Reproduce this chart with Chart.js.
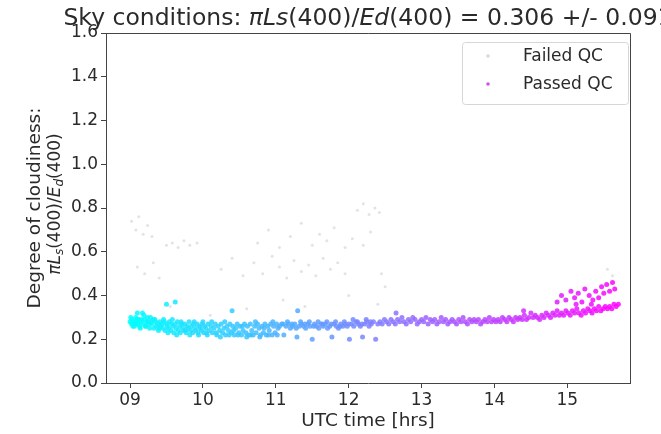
<!DOCTYPE html>
<html>
<head>
<meta charset="utf-8">
<script src="https://cdn.jsdelivr.net/npm/chart.js@4.4.0/dist/chart.umd.min.js"></script>
<style>
  html, body { margin: 0; padding: 0; background: #fff; }
</style>
</head>
<body>
<canvas id="skyChart" width="661" height="434"></canvas>
<script>
// ticks
const xTicks = [9, 10, 11, 12, 13, 14, 15];
const xTickLabels = ["09", "10", "11", "12", "13", "14", "15"];
const yTicks = [0, 0.2, 0.4, 0.6, 0.8, 1.0, 1.2, 1.4, 1.6];

// passed QC
const passedTime = [
  9.00, 9.02, 9.03, 9.05, 9.06, 9.08, 9.09, 9.11, 9.12, 9.14,
  9.15, 9.17, 9.18, 9.20, 9.21, 9.23, 9.24, 9.26, 9.27, 9.29,
  9.30, 9.32, 9.33, 9.35, 9.36, 9.38, 9.39, 9.41, 9.42, 9.44,
  9.45, 9.47, 9.48, 9.50, 9.51, 9.53, 9.54, 9.56, 9.57, 9.59,
  9.60, 9.62, 9.63, 9.65, 9.66, 9.68, 9.69, 9.71, 9.72, 9.74,
  9.75, 9.77, 9.78, 9.80, 9.81, 9.83, 9.84, 9.86, 9.87, 9.89,
  9.90, 9.92, 9.93, 9.95, 9.96, 9.98, 9.99, 10.01, 10.02, 10.04,
  10.05, 10.07, 10.09, 10.11, 10.13, 10.15, 10.17, 10.19, 10.21, 10.23,
  10.25, 10.27, 10.29, 10.31, 10.33, 10.35, 10.37, 10.39, 10.41, 10.43,
  10.45, 10.47, 10.49, 10.51, 10.53, 10.55, 10.57, 10.59, 10.61, 10.63,
  10.65, 10.67, 10.69, 10.71, 10.73, 10.75, 10.77, 10.79, 10.81, 10.83,
  10.85, 10.87, 10.89, 10.91, 10.93, 10.95, 10.97, 10.99, 11.01, 11.03,
  11.05, 11.08, 11.11, 11.14, 11.17, 11.20, 11.23, 11.26, 11.29, 11.32,
  11.35, 11.38, 11.41, 11.44, 11.47, 11.50, 11.53, 11.56, 11.59, 11.62,
  11.65, 11.68, 11.71, 11.74, 11.77, 11.80, 11.83, 11.86, 11.89, 11.92,
  11.95, 11.98, 12.01, 12.04, 12.07, 12.10, 12.13, 12.16, 12.19, 12.22,
  12.25, 12.28, 12.31, 12.34, 12.37, 12.40, 12.43, 12.46, 12.49, 12.52,
  12.55, 12.58, 12.61, 12.64, 12.67, 12.70, 12.73, 12.76, 12.79, 12.82,
  12.85, 12.88, 12.91, 12.94, 12.97, 13.00, 13.03, 13.06, 13.09, 13.12,
  13.15, 13.18, 13.21, 13.24, 13.27, 13.30, 13.33, 13.36, 13.39, 13.42,
  13.45, 13.48, 13.51, 13.54, 13.57, 13.60, 13.63, 13.66, 13.69, 13.72,
  13.75, 13.78, 13.81, 13.84, 13.87, 13.90, 13.93, 13.96, 13.99, 14.02,
  14.05, 14.08, 14.11, 14.14, 14.17, 14.20, 14.23, 14.26, 14.29, 14.32,
  14.35, 14.38, 14.41, 14.44, 14.47, 14.50, 14.53, 14.56, 14.59, 14.62,
  14.65, 14.68, 14.71, 14.74, 14.77, 14.80, 14.83, 14.86, 14.89, 14.92,
  14.95, 14.98, 15.01, 15.04, 15.07, 15.10, 15.13, 15.16, 15.19, 15.22,
  15.25, 15.28, 15.31, 15.34, 15.37, 15.40, 15.43, 15.46, 15.49, 15.52,
  15.55, 15.58, 15.61, 15.64, 15.67, 15.70,
  14.86, 14.92, 14.98, 15.05, 15.10, 15.15, 15.20, 15.24, 15.30, 15.35,
  15.39, 15.43, 15.47, 15.50, 15.54, 15.58, 15.62, 15.65, 15.12, 15.33,
  9.10, 9.50, 9.62, 10.40, 11.30, 12.65, 14.40,
  9.01, 9.04, 9.07, 9.10, 9.13, 9.16, 9.19, 9.22, 9.25, 9.28,
  9.34, 9.40, 9.46, 9.52, 9.58, 9.64, 9.70, 9.76, 9.82, 9.88,
  9.94, 10.00, 10.06, 10.12, 10.18, 10.24, 10.30, 10.36, 10.42, 10.48,
  10.54, 10.60, 10.66, 10.72, 10.78, 10.84, 10.90, 10.96, 11.02, 11.10,
  11.16, 11.22, 11.28, 11.34, 11.40, 11.46, 11.52, 11.58, 11.64, 11.70,
  11.76, 11.82, 11.88, 11.94, 12.00, 12.06, 12.12, 12.18, 12.24, 12.30
];
const passedValue = [
  0.28, 0.27, 0.29, 0.28, 0.26, 0.30, 0.28, 0.27, 0.29, 0.25,
  0.28, 0.32, 0.27, 0.29, 0.26, 0.28, 0.30, 0.27, 0.25, 0.28,
  0.27, 0.29, 0.25, 0.28, 0.26, 0.27, 0.24, 0.28, 0.26, 0.27,
  0.25, 0.28, 0.24, 0.27, 0.26, 0.25, 0.28, 0.24, 0.27, 0.26,
  0.23, 0.27, 0.25, 0.28, 0.24, 0.26, 0.23, 0.27, 0.25, 0.24,
  0.27, 0.23, 0.26, 0.25, 0.28, 0.24, 0.26, 0.23, 0.27, 0.25,
  0.24, 0.27, 0.23, 0.26, 0.25, 0.24, 0.27, 0.23, 0.26, 0.25,
  0.23, 0.27, 0.24, 0.26, 0.23, 0.25, 0.27, 0.22, 0.26, 0.24,
  0.27, 0.23, 0.25, 0.22, 0.26, 0.24, 0.27, 0.23, 0.26, 0.22,
  0.25, 0.27, 0.23, 0.26, 0.22, 0.24, 0.27, 0.23, 0.26, 0.22,
  0.27, 0.24, 0.22, 0.26, 0.23, 0.27, 0.25, 0.22, 0.26, 0.23,
  0.27, 0.22, 0.26, 0.24, 0.27, 0.22, 0.26, 0.23, 0.27, 0.25,
  0.26, 0.27, 0.22, 0.26, 0.27, 0.25, 0.26, 0.27, 0.21, 0.26,
  0.27, 0.26, 0.25, 0.27, 0.26, 0.20, 0.27, 0.26, 0.25, 0.27,
  0.26, 0.27, 0.25, 0.26, 0.21, 0.27, 0.26, 0.25, 0.27, 0.26,
  0.27, 0.26, 0.20, 0.27, 0.26, 0.28, 0.27, 0.26, 0.21, 0.27,
  0.28, 0.26, 0.27, 0.28, 0.20, 0.27, 0.28, 0.27, 0.29, 0.28,
  0.27, 0.29, 0.28, 0.27, 0.29, 0.28, 0.30, 0.28, 0.27, 0.29,
  0.28, 0.30, 0.29, 0.27, 0.28, 0.29, 0.28, 0.30, 0.27, 0.29,
  0.28, 0.29, 0.27, 0.28, 0.30, 0.28, 0.29, 0.27, 0.28, 0.29,
  0.28, 0.27, 0.29, 0.28, 0.30, 0.28, 0.27, 0.29, 0.28, 0.29,
  0.28, 0.29, 0.27, 0.28, 0.29, 0.28, 0.30, 0.28, 0.29, 0.28,
  0.29, 0.28, 0.30, 0.29, 0.28, 0.30, 0.29, 0.28, 0.30, 0.29,
  0.30, 0.29, 0.31, 0.29, 0.30, 0.32, 0.30, 0.31, 0.30, 0.29,
  0.31, 0.30, 0.32, 0.31, 0.30, 0.32, 0.31, 0.33, 0.31, 0.32,
  0.31, 0.33, 0.32, 0.31, 0.33, 0.32, 0.34, 0.32, 0.31, 0.33,
  0.32, 0.34, 0.33, 0.32, 0.34, 0.33, 0.35, 0.33, 0.34, 0.35,
  0.34, 0.35, 0.34, 0.36, 0.35, 0.36,
  0.37, 0.40, 0.38, 0.42, 0.39, 0.41, 0.37, 0.43, 0.40, 0.38,
  0.42, 0.39, 0.44, 0.41, 0.45, 0.42, 0.46, 0.43, 0.36, 0.36,
  0.32, 0.36, 0.37, 0.33, 0.33, 0.32, 0.33,
  0.30, 0.26, 0.27, 0.29, 0.26, 0.29, 0.31, 0.26, 0.28, 0.30,
  0.29, 0.25, 0.29, 0.23, 0.29, 0.22, 0.28, 0.24, 0.22, 0.28,
  0.22, 0.28, 0.22, 0.28, 0.23, 0.21, 0.28, 0.22, 0.24, 0.22,
  0.26, 0.21, 0.22, 0.28, 0.21, 0.25, 0.22, 0.28, 0.22, 0.27,
  0.28, 0.27, 0.25, 0.28, 0.27, 0.28, 0.26, 0.28, 0.27, 0.28,
  0.27, 0.28, 0.26, 0.28, 0.27, 0.29, 0.28, 0.27, 0.29, 0.28
];

// failed QC
const failedTime = [
  9.02, 9.08, 9.12, 9.18, 9.24, 9.30,
  9.50, 9.58, 9.66, 9.74, 9.82, 9.92,
  9.10, 9.20, 9.32, 9.40,
  10.25, 10.40, 10.55, 10.70, 10.82, 10.95, 11.05, 11.15,
  11.25, 11.35, 11.45, 11.55, 11.65, 11.75, 11.85, 11.95,
  10.75, 10.90, 11.05, 11.20, 11.35, 11.50, 11.60, 11.70,
  11.80, 11.95, 12.05, 12.20, 12.30,
  12.12, 12.20, 12.28, 12.36, 12.42,
  9.55, 10.10, 10.60, 11.10, 11.40, 12.00, 12.50, 12.40,
  15.55, 15.62, 12.45
];
const failedValue = [
  0.74, 0.70, 0.76, 0.68, 0.72, 0.67,
  0.63, 0.64, 0.62, 0.65, 0.63, 0.64,
  0.53, 0.50, 0.55, 0.48,
  0.52, 0.57, 0.49, 0.55, 0.50, 0.58, 0.53, 0.48,
  0.56, 0.51, 0.54, 0.49, 0.57, 0.52, 0.55, 0.50,
  0.64, 0.70, 0.62, 0.67, 0.73, 0.63, 0.68, 0.65,
  0.71, 0.62, 0.66, 0.63, 0.69,
  0.79, 0.82, 0.77, 0.80, 0.78,
  0.35, 0.31, 0.34, 0.38, 0.35, 0.40, 0.44, 0.36,
  0.52, 0.49, 0.50
];

const FONT = "'DejaVu Sans', sans-serif";
const tMin = Math.min(...passedTime);
const tMax = Math.max(...passedTime);

// matplotlib "cool" colormap: cyan -> magenta
function coolColor(t, a) {
  const f = (t - tMin) / (tMax - tMin);
  return `rgba(${Math.round(255 * f)}, ${Math.round(255 * (1 - f))}, 255, ${a})`;
}

// draw a line of text made of runs with different fonts, centred on x
function drawRuns(ctx, runs, x, y) {
  let total = 0;
  runs.forEach(r => { ctx.font = r.font; total += ctx.measureText(r.text).width; });
  let cx = x - total / 2;
  ctx.textAlign = "left";
  ctx.textBaseline = "alphabetic";
  runs.forEach(r => {
    ctx.font = r.font;
    ctx.fillText(r.text, cx, y + (r.dy || 0));
    cx += ctx.measureText(r.text).width;
  });
}

const decorPlugin = {
  id: "decor",
  afterDraw(chart) {
    const ctx = chart.ctx;
    const a = chart.chartArea;
    ctx.save();
    // top and right spines
    ctx.strokeStyle = "#444";
    ctx.lineWidth = 1;
    ctx.beginPath();
    ctx.moveTo(a.left, a.top + 0.5);
    ctx.lineTo(a.right + 0.5, a.top + 0.5);
    ctx.lineTo(a.right + 0.5, a.bottom);
    ctx.stroke();

    ctx.fillStyle = "#2a2a2a";
    // title
    const nf = `23.5px ${FONT}`, itf = `italic 23.5px ${FONT}`;
    drawRuns(ctx, [
      { text: "Sky conditions: ", font: nf },
      { text: "\u03c0Ls", font: itf },
      { text: "(400)/", font: nf },
      { text: "Ed", font: itf },
      { text: "(400) = 0.306 +/- 0.091", font: nf }
    ], (a.left + a.right) / 2, 25);

    // y axis label (two lines, rotated)
    const cy = (a.top + a.bottom) / 2;
    ctx.save();
    ctx.translate(40, cy);
    ctx.rotate(-Math.PI / 2);
    drawRuns(ctx, [{ text: "Degree of cloudiness:", font: `18.5px ${FONT}` }], 0, 0);
    ctx.restore();
    ctx.save();
    ctx.translate(60, cy - 4);
    ctx.rotate(-Math.PI / 2);
    drawRuns(ctx, [
      { text: "\u03c0L", font: `italic 17px ${FONT}` },
      { text: "s", font: `italic 12px ${FONT}`, dy: 3 },
      { text: "(400)/", font: `17px ${FONT}` },
      { text: "E", font: `italic 17px ${FONT}` },
      { text: "d", font: `italic 12px ${FONT}`, dy: 3 },
      { text: "(400)", font: `17px ${FONT}` }
    ], 0, 0);
    ctx.restore();

    // legend
    const lx = 462, ly = 42, lw = 166, lh = 62;
    ctx.fillStyle = "rgba(255,255,255,0.8)";
    ctx.strokeStyle = "#d6d6d6";
    ctx.beginPath();
    ctx.roundRect(lx + 0.5, ly + 0.5, lw, lh, 3);
    ctx.fill();
    ctx.stroke();
    ctx.fillStyle = "rgba(190,190,190,0.6)";
    ctx.beginPath(); ctx.arc(488, 56, 1.8, 0, Math.PI * 2); ctx.fill();
    ctx.fillStyle = "rgba(190, 70, 230, 0.9)";
    ctx.beginPath(); ctx.arc(488, 84, 1.8, 0, Math.PI * 2); ctx.fill();
    ctx.fillStyle = "#2a2a2a";
    ctx.font = `17px ${FONT}`;
    ctx.textAlign = "left";
    ctx.textBaseline = "middle";
    ctx.fillText("Failed QC", 523, 57);
    ctx.fillText("Passed QC", 523, 85);
    ctx.restore();
  }
};

const ctx = document.getElementById("skyChart").getContext("2d");
new Chart(ctx, {
  type: "scatter",
  data: {
    datasets: [
      {
        label: "Failed QC",
        data: failedTime.map((t, i) => ({ x: t, y: failedValue[i] })),
        backgroundColor: "rgba(185,185,185,0.4)",
        borderWidth: 0,
        pointRadius: 1.5
      },
      {
        label: "Passed QC",
        data: passedTime.map((t, i) => ({ x: t, y: passedValue[i] })),
        backgroundColor: (c) => c.raw ? coolColor(c.raw.x, 0.85) : "#88f",
        borderWidth: 0,
        pointRadius: 2.5
      }
    ]
  },
  options: {
    responsive: false,
    animation: false,
    layout: { padding: { top: 33, right: 31, left: 0, bottom: 0 } },
    plugins: { legend: { display: false }, tooltip: { enabled: false } },
    scales: {
      x: {
        type: "linear",
        min: 8.67,
        max: 15.86,
        afterBuildTicks: (axis) => { axis.ticks = xTicks.map(v => ({ value: v })); },
        afterFit: (s) => { s.height = 51; },
        grid: { drawOnChartArea: false, drawTicks: true, tickLength: 5, tickColor: "#444" },
        border: { display: true, color: "#444" },
        ticks: {
          padding: 2,
          color: "#2a2a2a",
          font: { family: FONT, size: 17 },
          callback: (v) => xTickLabels[xTicks.indexOf(v)]
        },
        title: {
          display: true,
          text: "UTC time [hrs]",
          color: "#2a2a2a",
          font: { family: FONT, size: 18.5 },
          padding: { top: 0, bottom: 2 }
        }
      },
      y: {
        min: 0,
        max: 1.6,
        afterBuildTicks: (axis) => { axis.ticks = yTicks.map(v => ({ value: v })); },
        afterFit: (s) => { s.width = 106; },
        grid: { drawOnChartArea: false, drawTicks: true, tickLength: 5, tickColor: "#444" },
        border: { display: true, color: "#444" },
        ticks: {
          padding: 3,
          color: "#2a2a2a",
          font: { family: FONT, size: 17 },
          callback: (v) => v.toFixed(1)
        }
      }
    }
  },
  plugins: [decorPlugin]
});
</script>
</body>
</html>
